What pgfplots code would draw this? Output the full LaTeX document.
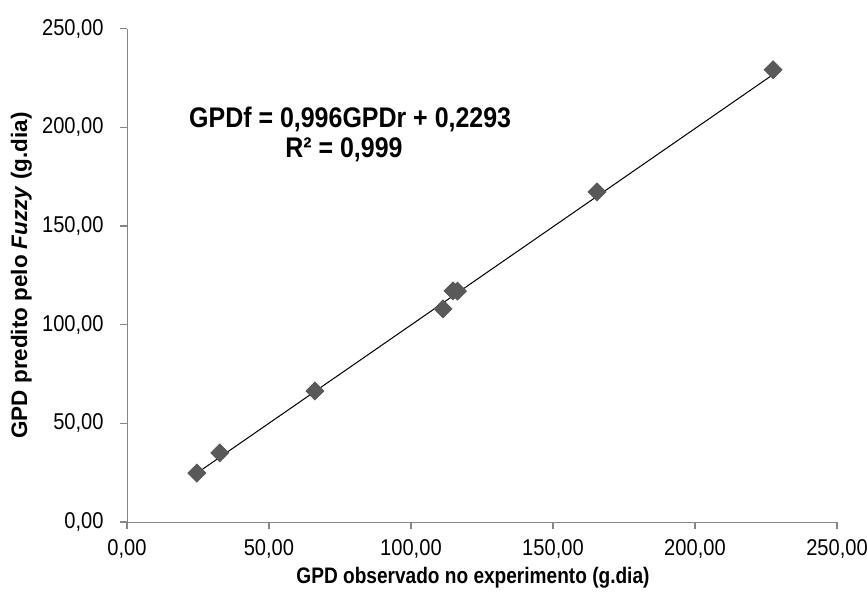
\documentclass[border=0pt]{standalone}
\usepackage{pgfplots}
\pgfplotsset{compat=1.18}
\usepackage{fontspec}
\setmainfont{Liberation Sans}
\newfontfamily\narrowfont[FakeStretch=0.88]{Liberation Sans}
\newfontfamily\xlabfont[FakeStretch=0.85]{Liberation Sans}
\definecolor{axisgray}{RGB}{134,134,134}
\definecolor{markgray}{RGB}{89,89,89}

\begin{document}
\begin{tikzpicture}
\begin{axis}[
    scale only axis,
    width=348pt, height=241.7pt,
    xmin=0, xmax=250, ymin=0, ymax=250,
    xtick={0,50,...,250}, ytick={0,50,...,250},
    axis lines=left,
    axis line style={axisgray, -},
    tick style={axisgray, line width=0.6pt},
    tick align=outside,
    major tick length=3.4pt,
    ticklabel style={font=\narrowfont\fontsize{11.2}{13}\selectfont},
    yticklabel style={xshift=-4.5pt},
    xticklabel style={yshift=-1.5pt},
    /pgf/number format/.cd, fixed, fixed zerofill, precision=2, use comma, 1000 sep={}, assume math mode=true,
    /pgfplots/.cd,
    xlabel={\xlabfont\bfseries GPD observado no experimento (g.dia)},
    ylabel={\bfseries GPD predito pelo \textit{Fuzzy} (g.dia)},
    xlabel style={font=\fontsize{11}{13}\selectfont, at={(axis description cs:0.5,0)}, anchor=center, yshift=-27.4pt, xshift=-4.4pt},
    ylabel style={font=\fontsize{11}{13}\selectfont, at={(axis description cs:0,0.5)}, anchor=center, yshift=51.7pt},
    clip=false,
]
% linear trend line, GPDf = 0.996 GPDr + 0.2293, over the data range
\addplot[black, line width=0.5pt] coordinates {(24.6,24.73) (227.5,226.82)};
% observed vs predicted by the fuzzy model
\addplot[only marks, mark=square*, mark size=3.1pt,
         mark options={rotate=45, fill=markgray, draw=markgray}]
coordinates {
    (24.6,24.8)
    (32.7,35.0)
    (66.2,66.4)
    (111.3,108.0)
    (114.8,117.1)
    (116.4,117.0)
    (165.5,167.3)
    (227.5,229.2)
};
\node[font=\narrowfont\bfseries\fontsize{13.9}{15}\selectfont, anchor=base] at (axis cs:78.6,199.8) {GPDf = 0,996GPDr + 0,2293};
\node[font=\narrowfont\bfseries\fontsize{13.9}{15}\selectfont, anchor=base] at (axis cs:76.4,184.6) {R² = 0,999};
\end{axis}
\pgfresetboundingbox
\path[use as bounding box] ([xshift=-62.2pt,yshift=-34.3pt]current axis.south west) rectangle ([xshift=14.7pt,yshift=14.1pt]current axis.north east);
\end{tikzpicture}
\end{document}
